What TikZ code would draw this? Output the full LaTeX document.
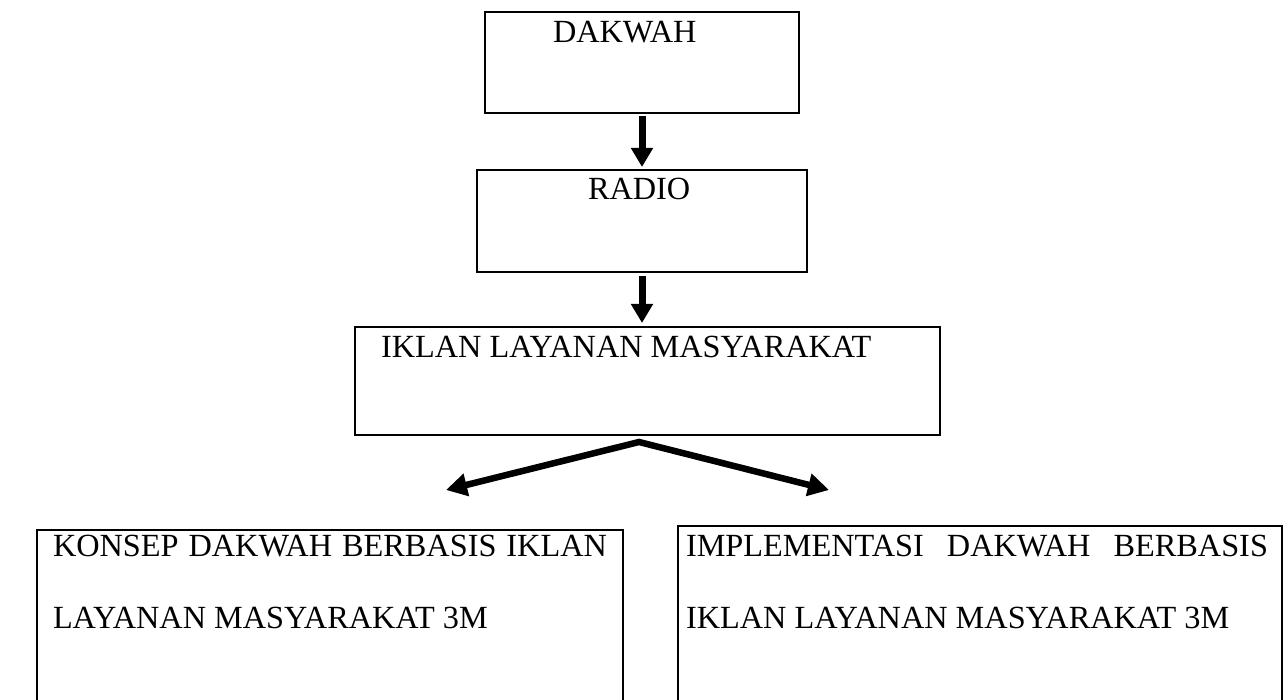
\documentclass[tikz,border=0pt]{standalone}
\usepackage{fontspec}
\setmainfont{Liberation Serif}
\usetikzlibrary{arrows.meta,calc}
\begin{document}
\begin{tikzpicture}[x=1pt,y=-1pt,
  box/.style={draw=black,line width=2.7pt,inner sep=0pt,outer sep=0pt,anchor=north west},
  lbl/.style={anchor=base west,inner sep=0pt,outer sep=0pt,font=\fontsize{32.3}{38}\selectfont},
  arr/.style={line width=7pt,-{Triangle[width=21pt,length=19pt]}},
  darr/.style={line width=6.5pt,line join=miter,{Triangle[width=22pt,length=21pt]}-{Triangle[width=22pt,length=21pt]}}]
\clip (0,0) rectangle (1287,700);
\fill[white] (0,0) rectangle (1287,700);
% boxes
\node[box,minimum width=314pt,minimum height=101pt] (dakwah) at (485,12) {};
\node[box,minimum width=330pt,minimum height=102pt] (radio) at (477,170) {};
\node[box,minimum width=585pt,minimum height=108pt] (iklan) at (355,327) {};
\node[box,minimum width=586pt,minimum height=260pt] (konsep) at (37,530) {};
\node[box,minimum width=604pt,minimum height=260pt] (impl) at (678,526) {};
% texts
\node[lbl] (tdakwah) at (553,43) {DAKWAH};
\node[lbl] (tradio) at (588,200) {RADIO};
\node[lbl] (tiklan) at (381,358) {IKLAN LAYANAN MASYARAKAT};
\node[lbl] (tkonsepa) at (53,556) {\makebox[554pt][s]{KONSEP DAKWAH BERBASIS IKLAN}};
\node[lbl] (tkonsepb) at (53,628) {LAYANAN MASYARAKAT 3M};
\node[lbl] (timpla) at (686,556) {\makebox[582pt][s]{IMPLEMENTASI DAKWAH BERBASIS}};
\node[lbl] (timplb) at (686,628) {IKLAN LAYANAN MASYARAKAT 3M};
% arrows
\draw[arr,shorten <=3pt,shorten >=3pt] (dakwah.south) -- (radio.north);
\draw[arr,shorten <=4pt,shorten >=4pt] (radio.south) -- (radio.south |- iklan.north);
\coordinate (apex) at ($(iklan.south)+(-8.5,7)$);
\coordinate (lt) at (446,490);
\coordinate (rt) at (829,490);
\draw[darr] (lt) -- (apex) -- (rt);
\end{tikzpicture}
\end{document}
